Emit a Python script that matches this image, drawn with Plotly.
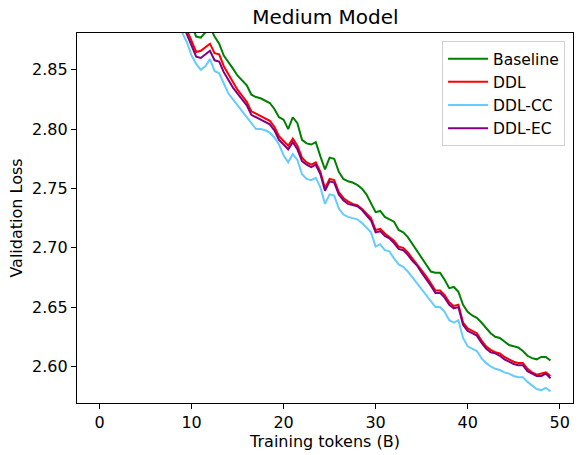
import plotly.graph_objects as go

# evaluation points every 0.5B tokens
tokens = [i * 0.5 for i in range(99)]

baseline = [
    4.30, 3.95, 3.72, 3.55, 3.43, 3.34, 3.27, 3.21, 3.16, 3.12, 3.085, 3.055, 3.030, 3.005, 2.980, 2.960, 2.942, 2.926, 2.912, 2.899,
    2.888, 2.878, 2.877, 2.881, 2.886, 2.878, 2.872, 2.862, 2.857, 2.851, 2.845, 2.841, 2.837, 2.829, 2.827, 2.826, 2.824, 2.822, 2.817, 2.810,
    2.808, 2.800, 2.810, 2.805, 2.791, 2.788, 2.787, 2.789, 2.777, 2.766, 2.776, 2.775, 2.764, 2.758, 2.756, 2.755, 2.753, 2.750, 2.745, 2.738,
    2.730, 2.731, 2.726, 2.724, 2.722, 2.715, 2.713, 2.709, 2.703, 2.697, 2.692, 2.686, 2.680, 2.679, 2.679, 2.673, 2.666, 2.667, 2.663, 2.652,
    2.646, 2.643, 2.641, 2.637, 2.632, 2.628, 2.625, 2.624, 2.621, 2.618, 2.617, 2.616, 2.613, 2.609, 2.607, 2.606, 2.608, 2.608, 2.605,
]
ddl = [
    4.20, 3.86, 3.63, 3.46, 3.34, 3.25, 3.18, 3.12, 3.08, 3.04, 3.01, 2.985, 2.965, 2.948, 2.935, 2.922, 2.912, 2.902, 2.893, 2.884,
    2.874, 2.865, 2.866, 2.869, 2.872, 2.864, 2.863, 2.853, 2.846, 2.839, 2.833, 2.828, 2.823, 2.815, 2.813, 2.811, 2.809, 2.807, 2.802, 2.794,
    2.790, 2.786, 2.792, 2.786, 2.776, 2.772, 2.770, 2.772, 2.764, 2.750, 2.758, 2.757, 2.747, 2.742, 2.739, 2.737, 2.736, 2.733, 2.729, 2.725,
    2.715, 2.716, 2.712, 2.709, 2.706, 2.701, 2.700, 2.696, 2.691, 2.687, 2.681, 2.676, 2.670, 2.664, 2.664, 2.660, 2.654, 2.651, 2.652, 2.637,
    2.632, 2.630, 2.628, 2.622, 2.617, 2.614, 2.612, 2.611, 2.608, 2.606, 2.604, 2.603, 2.603, 2.598, 2.595, 2.593, 2.594, 2.595, 2.592,
]
ddl_cc = [
    4.15, 3.82, 3.60, 3.43, 3.31, 3.22, 3.15, 3.10, 3.06, 3.02, 2.99, 2.965, 2.945, 2.930, 2.918, 2.907, 2.897, 2.889, 2.881, 2.873,
    2.862, 2.855, 2.850, 2.853, 2.859, 2.849, 2.847, 2.838, 2.830, 2.825, 2.820, 2.816, 2.811, 2.805, 2.800, 2.800, 2.799, 2.797, 2.793, 2.787,
    2.778, 2.772, 2.779, 2.774, 2.762, 2.758, 2.757, 2.759, 2.751, 2.737, 2.745, 2.744, 2.733, 2.728, 2.726, 2.725, 2.724, 2.721, 2.717, 2.713,
    2.701, 2.703, 2.698, 2.697, 2.691, 2.686, 2.684, 2.680, 2.675, 2.670, 2.665, 2.661, 2.655, 2.650, 2.650, 2.646, 2.639, 2.637, 2.639, 2.624,
    2.617, 2.615, 2.613, 2.607, 2.603, 2.600, 2.598, 2.597, 2.595, 2.594, 2.592, 2.591, 2.591, 2.587, 2.584, 2.581, 2.580, 2.582, 2.579,
]
ddl_ec = [
    4.18, 3.84, 3.62, 3.45, 3.33, 3.24, 3.17, 3.11, 3.07, 3.03, 3.00, 2.977, 2.958, 2.942, 2.929, 2.917, 2.906, 2.897, 2.889, 2.880,
    2.870, 2.861, 2.860, 2.863, 2.866, 2.858, 2.857, 2.848, 2.841, 2.835, 2.830, 2.825, 2.820, 2.812, 2.810, 2.808, 2.806, 2.804, 2.799, 2.791,
    2.787, 2.783, 2.789, 2.783, 2.773, 2.770, 2.768, 2.770, 2.762, 2.748, 2.756, 2.755, 2.745, 2.740, 2.737, 2.736, 2.735, 2.732, 2.727, 2.723,
    2.713, 2.714, 2.710, 2.708, 2.704, 2.699, 2.698, 2.694, 2.689, 2.685, 2.679, 2.674, 2.668, 2.662, 2.662, 2.658, 2.652, 2.649, 2.650, 2.635,
    2.630, 2.628, 2.626, 2.620, 2.615, 2.612, 2.611, 2.609, 2.606, 2.604, 2.602, 2.601, 2.601, 2.596, 2.594, 2.592, 2.592, 2.594, 2.590,
]

series = [
    ("Baseline", baseline, "green"),
    ("DDL", ddl, "red"),
    ("DDL-CC", ddl_cc, "#66ccff"),
    ("DDL-EC", ddl_ec, "purple"),
]

x_ticks = [0, 10, 20, 30, 40, 50]
y_ticks = [2.60, 2.65, 2.70, 2.75, 2.80, 2.85]

fig = go.Figure()
for name, vals, color in series:
    fig.add_trace(go.Scatter(x=tokens, y=vals, mode="lines", name=name,
                             line=dict(color=color, width=2)))

axis_style = dict(showline=True, linecolor="black", linewidth=1.2, mirror=True,
                  ticks="outside", ticklen=5, tickwidth=1.2, tickcolor="black",
                  showgrid=False, zeroline=False,
                  tickfont=dict(size=16, color="black"))

fig.update_layout(
    width=581, height=455,
    margin=dict(l=77, r=8, t=33, b=52),
    paper_bgcolor="white", plot_bgcolor="white",
    font=dict(family="DejaVu Sans", size=16, color="black"),
    title=dict(text="Medium Model", x=0.56, xanchor="center", y=0.962, yanchor="middle",
               font=dict(size=20, color="black")),
    showlegend=True,
    legend=dict(x=0.984, y=0.978, xanchor="right", yanchor="top",
                bgcolor="white", bordercolor="#d0d0d0", borderwidth=1,
                font=dict(size=15.5), tracegroupgap=0, itemwidth=40),
)
fig.update_xaxes(range=[-2.45, 51.45], tickvals=x_ticks,
                 title=dict(text="Training tokens (B)", standoff=3, font=dict(size=16)),
                 **axis_style)
fig.update_yaxes(range=[2.5692, 2.881], tickvals=y_ticks, tickformat=".2f",
                 title=dict(text="Validation Loss", standoff=5, font=dict(size=16)),
                 **axis_style)

# drop the browser's default page margin so the figure sits at the window origin
fig.write_html("out.html", config={"displayModeBar": False},
               post_script="document.body.style.margin='0';")
